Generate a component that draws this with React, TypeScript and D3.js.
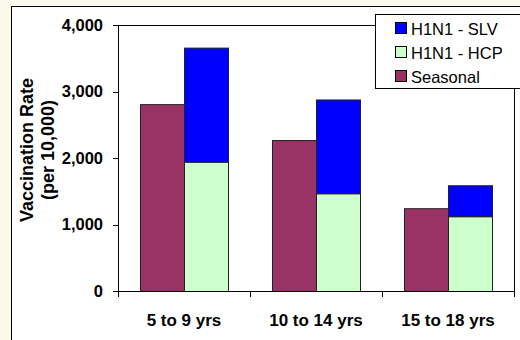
import React from "react";
import * as d3 from "d3";

const categories = ["5 to 9 yrs", "10 to 14 yrs", "15 to 18 yrs"];
const seasonal = [2810, 2270, 1245];
const h1n1Hcp = [1945, 1470, 1125];
const h1n1Slv = [1715, 1410, 465];
const yTicks = [0, 1000, 2000, 3000, 4000];
const legendItems = [
  { label: "H1N1 - SLV", color: "#0000FF" },
  { label: "H1N1 - HCP", color: "#CCFFCC" },
  { label: "Seasonal", color: "#993366" },
];

const W = 520;
const H = 340;
const plot = { left: 118, right: 514, top: 25, bottom: 291 };
const font = "'Liberation Sans', Arial, sans-serif";

export default function App() {
  const x = d3.scaleBand<string>().domain(categories).range([plot.left, plot.right]).padding(0);
  const inner = d3
    .scaleBand<string>()
    .domain(["seasonal", "h1n1"])
    .range([0, x.bandwidth()])
    .paddingInner(0)
    .paddingOuter(0.5);
  const y = d3.scaleLinear().domain([0, 4000]).range([plot.bottom, plot.top]);
  const fmt = d3.format(",");
  const bw = inner.bandwidth();

  return (
    <svg
      width={W}
      height={H}
      style={{ position: "absolute", left: 0, top: 0, display: "block" }}
      fontFamily={font}
    >
      <rect x={0} y={0} width={W} height={H} fill="#FBF8EC" />
      <rect x={11.5} y={6.5} width={W + 20} height={H + 20} fill="#FFFFFF" stroke="#000" strokeWidth={1} />

      {/* plot frame */}
      <rect
        x={plot.left + 0.5}
        y={plot.top + 0.5}
        width={plot.right - plot.left}
        height={plot.bottom - plot.top}
        fill="#FFFFFF"
        stroke="#000"
        strokeWidth={1}
      />

      {/* bars */}
      {categories.map((c, i) => {
        const x0 = x(c)!;
        const xs = x0 + inner("seasonal")!;
        const xh = x0 + inner("h1n1")!;
        return (
          <g key={c} stroke="#222" strokeWidth={1}>
            <rect x={xs + 0.5} y={y(seasonal[i]) + 0.5} width={bw} height={y(0) - y(seasonal[i])} fill="#993366" />
            <rect x={xh + 0.5} y={y(h1n1Hcp[i]) + 0.5} width={bw} height={y(0) - y(h1n1Hcp[i])} fill="#CCFFCC" />
            <rect
              x={xh + 0.5}
              y={y(h1n1Hcp[i] + h1n1Slv[i]) + 0.5}
              width={bw}
              height={y(h1n1Hcp[i]) - y(h1n1Hcp[i] + h1n1Slv[i])}
              fill="#0000FF"
            />
          </g>
        );
      })}

      {/* y axis */}
      <line x1={plot.left + 0.5} x2={plot.left + 0.5} y1={plot.top} y2={plot.bottom + 1} stroke="#000" />
      {yTicks.map((t) => (
        <g key={t}>
          <line x1={plot.left - 5} x2={plot.left + 0.5} y1={Math.round(y(t)) + 0.5} y2={Math.round(y(t)) + 0.5} stroke="#000" />
          <text
            x={plot.left - 15}
            y={y(t)}
            dy="0.36em"
            textAnchor="end"
            fontSize={16.5}
            fontWeight="bold"
            fill="#000"
          >
            {fmt(t)}
          </text>
        </g>
      ))}

      {/* x axis */}
      <line x1={plot.left} x2={plot.right + 1} y1={plot.bottom + 0.5} y2={plot.bottom + 0.5} stroke="#000" />
      {[...categories.map((c) => x(c)!), plot.right].map((v, i) => (
        <line key={i} x1={Math.round(v) + 0.5} x2={Math.round(v) + 0.5} y1={plot.bottom} y2={plot.bottom + 6} stroke="#000" />
      ))}
      {categories.map((c) => (
        <text
          key={c}
          x={x(c)! + x.bandwidth() / 2}
          y={326}
          textAnchor="middle"
          fontSize={17}
          fontWeight="bold"
          fill="#000"
        >
          {c}
        </text>
      ))}

      {/* y axis title */}
      <g transform={`translate(0, ${(plot.top + plot.bottom) / 2 - 8}) rotate(-90)`}>
        <text x={0} y={33} textAnchor="middle" fontSize={18} fontWeight="bold" fill="#000">
          Vaccination Rate
        </text>
        <text x={0} y={54} textAnchor="middle" fontSize={18} fontWeight="bold" fill="#000">
          (per 10,000)
        </text>
      </g>

      {/* legend */}
      <rect x={375.5} y={14.5} width={160} height={74} fill="#FFFFFF" stroke="#000" strokeWidth={1} />
      {legendItems.map((d, i) => (
        <g key={d.label} transform={`translate(395, ${22 + i * 24})`}>
          <rect x={0.5} y={0.5} width={11} height={11} fill={d.color} stroke="#000" strokeWidth={1} />
          <text x={16} y={12.5} fontSize={16.5} fill="#000">
            {d.label}
          </text>
        </g>
      ))}
    </svg>
  );
}
